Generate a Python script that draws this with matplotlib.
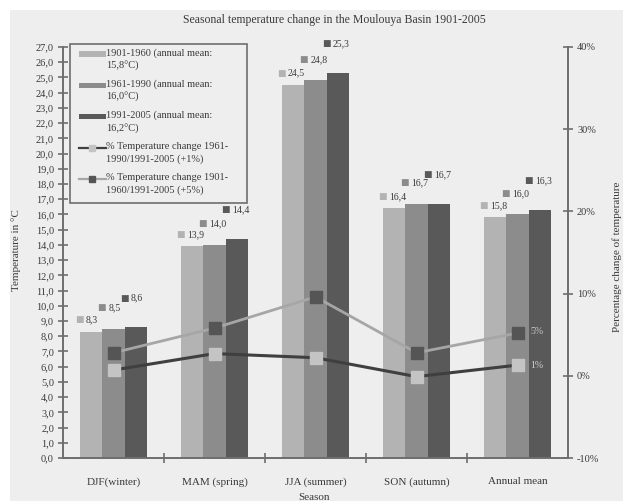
import matplotlib
matplotlib.use("Agg")
import matplotlib.pyplot as plt
from matplotlib.patches import Rectangle
from matplotlib.lines import Line2D
import numpy as np

# ---------------- data ----------------
seasons = ["DJF(winter)", "MAM (spring)", "JJA (summer)", "SON (autumn)", "Annual mean"]
t_1901_1960 = [8.3, 13.9, 24.5, 16.4, 15.8]
t_1961_1990 = [8.5, 14.0, 24.8, 16.7, 16.0]
t_1991_2005 = [8.6, 14.4, 25.3, 16.7, 16.3]
pct_6190_9105 = [0.7, 2.7, 2.2, -0.1, 1.3]
pct_0160_9105 = [2.8, 5.8, 9.6, 2.8, 5.2]
end_labels = ["5%", "1%"]
legend_labels = [
    "1901-1960 (annual mean:\n15,8°C)",
    "1961-1990 (annual mean:\n16,0°C)",
    "1991-2005 (annual mean:\n16,2°C)",
    "% Temperature change 1961-\n1990/1991-2005 (+1%)",
    "% Temperature change 1901-\n1960/1991-2005 (+5%)",
]
title = "Seasonal temperature change in the Moulouya Basin 1901-2005"

# ---------------- style ----------------
FONT = ["Liberation Serif", "DejaVu Serif"]
plt.rcParams["font.family"] = FONT
c_light, c_mid, c_dark = "#b3b3b3", "#8c8c8c", "#595959"
bar_colors = [c_light, c_mid, c_dark]
spine_c = "#6e6e6e"
text_c = "#3a3a3a"

W, H = 627, 501
fig = plt.figure(figsize=(W / 100, H / 100), dpi=100, facecolor="white")
fig.patches.append(Rectangle((10 / W, 0), (623 - 10) / W, 1 - 10 / H,
                             transform=fig.transFigure, facecolor="#eeeeee",
                             edgecolor="none", zorder=-10))

L, R, B, T = 63, 568, 458, 47
ax = fig.add_axes([L / W, 1 - B / H, (R - L) / W, (B - T) / H])
ax.set_facecolor("none")
ax2 = ax.twinx()
ax2.set_facecolor("none")

x = np.arange(len(seasons))
bw = 0.224
series = [t_1901_1960, t_1961_1990, t_1991_2005]
label_dy = [12, 21, 29]
for i, (vals, col) in enumerate(zip(series, bar_colors)):
    pos = x + (i - 1) * bw
    ax.bar(pos, vals, width=bw, color=col, edgecolor="none", zorder=2)
    for p, v in zip(pos, vals):
        ax.annotate("■", xy=(p - bw / 2, v), xytext=(-3.5, label_dy[i] * 0.72),
                    textcoords="offset points", ha="left", va="center",
                    fontsize=6.5, color=col, family="DejaVu Sans", zorder=5)
        ax.annotate(f"{v:.1f}".replace(".", ","), xy=(p - bw / 2, v),
                    xytext=(4.5, label_dy[i] * 0.72), textcoords="offset points",
                    ha="left", va="center", fontsize=7, color=text_c, zorder=5)

ax.set_xlim(-0.5, len(seasons) - 0.5)
ax.set_ylim(0, 27)
ax.set_yticks(np.arange(0, 28, 1))
ax.set_yticklabels([f"{v:.1f}".replace(".", ",") for v in np.arange(0, 28, 1)])
ax.set_xticks(np.arange(0.5, len(seasons) - 0.5, 1))
ax.set_xticklabels([])
ax.set_xticks(x, minor=True)
ax.set_xticklabels(seasons, minor=True)
ax.tick_params(axis="x", which="minor", length=0, pad=14, labelsize=8, labelcolor=text_c)
ax.tick_params(axis="x", which="major", direction="inout", length=7, width=1.2, color=spine_c)
ax.tick_params(axis="y", direction="inout", length=7, width=1.2, color=spine_c,
               labelsize=7.5, labelcolor=text_c, pad=3)

# lines on right axis
ln1, = ax2.plot(x, pct_6190_9105, color="#3f3f3f", lw=2.2, marker="s", ms=8.5,
                mfc="#c4c4c4", mec="#c4c4c4", zorder=4)
ln2, = ax2.plot(x, pct_0160_9105, color="#a6a6a6", lw=2, marker="s", ms=8.5,
                mfc="#555555", mec="#555555", zorder=4)
ax2.annotate(end_labels[0], xy=(x[-1], pct_0160_9105[-1]), xytext=(9, 1),
             textcoords="offset points", ha="left", va="center", fontsize=7,
             color="#c8c8c8")
ax2.annotate(end_labels[1], xy=(x[-1], pct_6190_9105[-1]), xytext=(9, 0),
             textcoords="offset points", ha="left", va="center", fontsize=7,
             color="#d0d0d0")
ax2.set_ylim(-10, 40)
ax2.set_yticks([-10, 0, 10, 20, 30, 40])
ax2.set_yticklabels(["-10%", "0%", "10%", "20%", "30%", "40%"])
ax2.tick_params(axis="y", direction="inout", length=7, width=1.2, color=spine_c,
                labelsize=7.5, labelcolor=text_c, pad=3)

for a in (ax, ax2):
    a.spines["top"].set_visible(False)
    for s in ("left", "right", "bottom"):
        a.spines[s].set_color(spine_c)
        a.spines[s].set_linewidth(1.4)
ax.spines["right"].set_visible(False)
ax2.spines["left"].set_visible(False)
ax2.spines["bottom"].set_visible(False)

# axis titles
fig.text(16 / W, 1 - 250 / H, "Temperature in °C", rotation=90, ha="center",
         va="center", fontsize=8, color=text_c)
fig.text(617 / W, 1 - 257 / H, "Percentage change of temperature", rotation=90,
         ha="center", va="center", fontsize=8, color=text_c)
fig.text(314 / W, 1 - 493 / H, "Season", ha="center", va="top", fontsize=8,
         color=text_c)
fig.text(334 / W, 1 - 20 / H, title, ha="center", va="center", fontsize=8.5,
         color=text_c)

# legend (drawn manually)
def px(xp, yp):
    return xp / W, 1 - yp / H

lx0, ly0, lx1, ly1 = 70, 44, 247, 203
fig.patches.append(Rectangle(px(lx0, ly1), (lx1 - lx0) / W, (ly1 - ly0) / H,
                             transform=fig.transFigure, facecolor="#eeeeee",
                             edgecolor=spine_c, linewidth=1.2, zorder=6))
handles = [("patch", c_light), ("patch", c_mid), ("patch", c_dark),
           ("line", ln1), ("line", ln2)]
for i, (lab, (kind, h)) in enumerate(zip(legend_labels, handles)):
    yc = 54 + 31.3 * i
    if kind == "patch":
        fig.patches.append(Rectangle(px(79, yc + 2.5), 27 / W, 5 / H,
                                     transform=fig.transFigure, facecolor=h,
                                     edgecolor="none", zorder=7))
    else:
        xs = [79 / W, 106 / W]
        ys = [1 - yc / H] * 2
        fig.lines.append(Line2D(xs, ys, transform=fig.transFigure,
                                color=h.get_color(), lw=1.6, zorder=7))
        fig.lines.append(Line2D([92 / W], [1 - yc / H], transform=fig.transFigure,
                                marker="s", ms=5, mfc=h.get_markerfacecolor(),
                                mec=h.get_markeredgecolor(), lw=0, zorder=8))
    fig.text(106 / W, 1 - (yc - 6) / H, lab, ha="left", va="top", fontsize=7.5,
             color=text_c, linespacing=1.45, zorder=8)

fig.savefig("out.png", dpi=100, facecolor=fig.get_facecolor())
